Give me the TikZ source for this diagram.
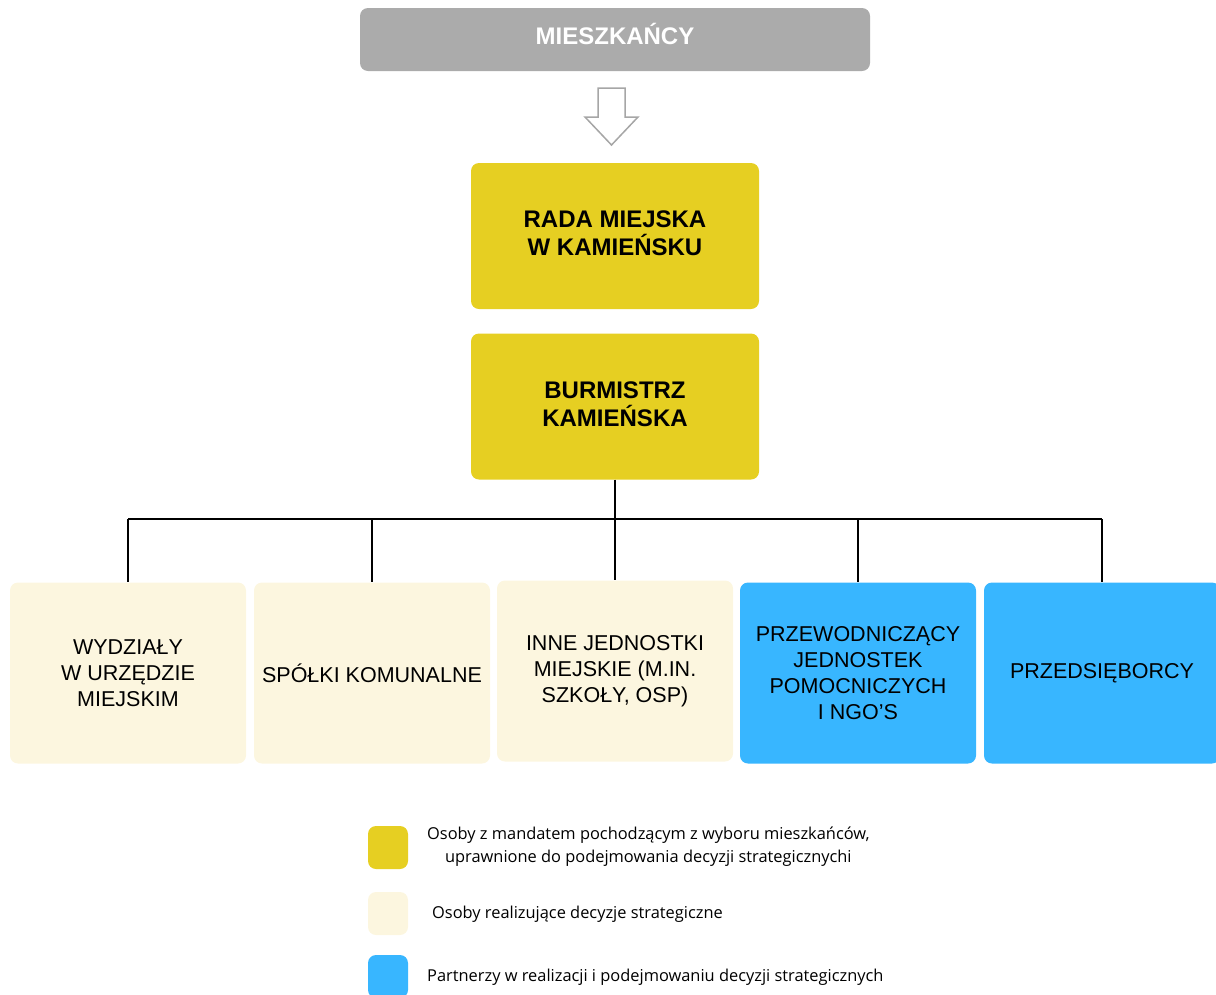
\documentclass[tikz,border=0pt]{standalone}
\usepackage{fontspec}
\setmainfont{Liberation Sans}
\newfontfamily\legendfont{Open Sans}
\usetikzlibrary{positioning}
\definecolor{boxgray}{HTML}{ABABAB}
\definecolor{mandat}{HTML}{E6CF22}
\definecolor{realiz}{HTML}{FCF6DF}
\definecolor{partner}{HTML}{38B6FF}
\definecolor{arrowgray}{HTML}{A6A6A6}

\begin{document}
\begin{tikzpicture}[x=1pt, y=-1pt,
	box/.style={rounded corners=8pt, minimum width=236pt, minimum height=181pt, align=center, inner sep=0pt, font=\fontsize{21.5}{26}\selectfont},
	topbox/.style={rounded corners=8pt, fill=mandat, minimum width=288pt, minimum height=146pt, align=center, text depth=5pt, font=\bfseries\fontsize{24}{28}\selectfont},
	key/.style={rounded corners=8pt, minimum width=40pt, minimum height=43pt, inner sep=0pt},
	keytext/.style={align=center, anchor=west, inner sep=0pt, font=\legendfont\fontsize{16.4}{23}\selectfont},
	link/.style={black, line width=1.5pt}]
		\useasboundingbox (0,0) rectangle (1216,994);
		% top
		\node[fill=boxgray, rounded corners=8pt, minimum width=510pt, minimum height=63pt, text depth=12pt, text=white, font=\bfseries\fontsize{24}{28}\selectfont] (mieszkancy) at (615,39.5) {MIESZKAŃCY};
		\draw[arrowgray, line width=1.5pt, fill=white] (598,88) -- (625,88) -- (625,117) -- (638,117) -- (611.5,145) -- (585,117) -- (598,117) -- cycle;
		\node[topbox] (rada) at (615,236) {RADA MIEJSKA\\W KAMIEŃSKU};
		\node[topbox] (burmistrz) at (615,406.5) {BURMISTRZ\\KAMIEŃSKA};
		% bottom row
		\node[box, fill=realiz] (wydzialy) at (128,673) {WYDZIAŁY\\W URZĘDZIE\\MIEJSKIM};
		\node[box, fill=realiz] (spolki) at (372,673) {SPÓŁKI KOMUNALNE};
		\node[box, fill=realiz] (inne) at (615,671) {INNE JEDNOSTKI\\MIEJSKIE (M.IN.\\SZKOŁY, OSP)};
		\node[box, fill=partner] (przewodniczacy) at (858,673) {PRZEWODNICZĄCY\\JEDNOSTEK\\POMOCNICZYCH\\I NGO’S};
		\node[box, fill=partner] (przedsiebiorcy) at (1102,673) {PRZEDSIĘBORCY};
		\coordinate (bus) at (615,519);
		\draw[link] (burmistrz.south) -- (bus);
		\draw[link] (wydzialy.north |- bus) -- (przedsiebiorcy.north |- bus);
		\foreach \n in {wydzialy, spolki, inne, przewodniczacy, przedsiebiorcy}
			\draw[link] (\n.north |- bus) -- (\n.north);
		% legend
		\node[key, fill=mandat] (keymandat) at (388,847.5) {};
		\node[key, fill=realiz] (keyrealiz) at (388,913.5) {};
		\node[key, fill=partner] (keypartner) at (388,976.5) {};
		\node[keytext] (txtmandat) at (427,846.5) {Osoby z mandatem pochodzącym z wyboru mieszkańców,\\uprawnione do podejmowania decyzji strategicznychi};
		\node[keytext] (txtrealiz) at (432,914) {Osoby realizujące decyzje strategiczne};
		\node[keytext] (txtpartner) at (427,977) {Partnerzy w realizacji i podejmowaniu decyzji strategicznych};
	\end{tikzpicture}
\end{document}
